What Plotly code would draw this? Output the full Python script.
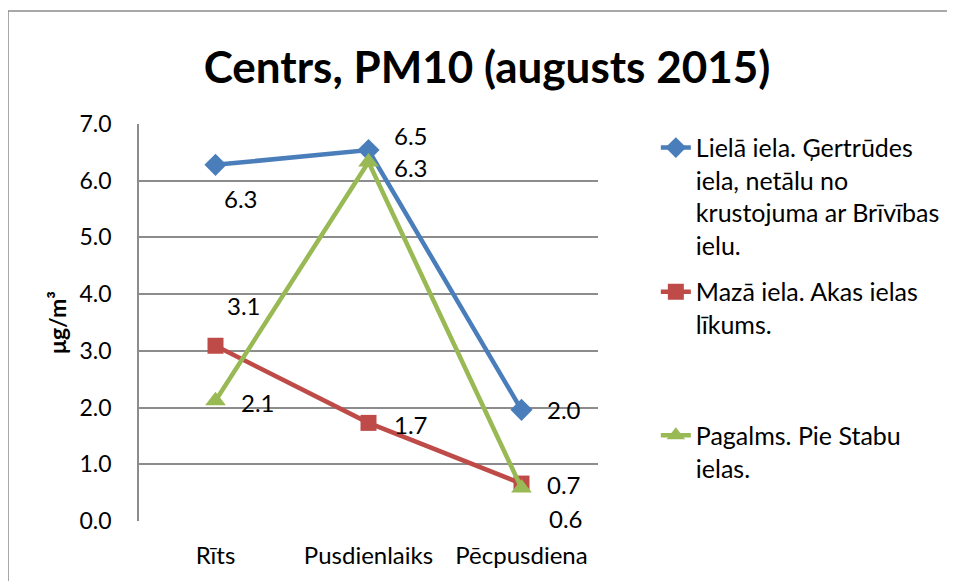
import plotly.graph_objects as go

# data
categories = ["Rīts", "Pusdienlaiks", "Pēcpusdiena"]
series_names = [
    "Lielā iela. Ģertrūdes<br>iela, netālu no<br>krustojuma ar Brīvības<br>ielu.",
    "Mazā iela. Akas ielas<br>līkums.",
    "Pagalms. Pie Stabu<br>ielas.",
]
liela_vals = [6.28, 6.54, 1.96]
maza_vals = [3.09, 1.73, 0.66]
pagalms_vals = [2.12, 6.33, 0.58]
y_ticks = [0, 1, 2, 3, 4, 5, 6, 7]

FONT = "Lato"
colors = ["#4A7EBB", "#BE4B48", "#98B954"]
symbols = ["diamond", "square", "triangle-up"]
msizes = [17, 16, 18]
# label offsets (px) for each point, per series, like the excel layout
label_shift = [
    [(25, -34), (42, 15), (42, 0)],
    [(28, 40), (42, -2), (42, -1)],
    [(42, -2), (42, -5), (44, -30)],
]
legend_y = [0.998, 0.635, 0.273]

all_vals = [liela_vals, maza_vals, pagalms_vals]

fig = go.Figure()
for i, vals in enumerate(all_vals):
    lg = "legend" if i == 0 else f"legend{i + 1}"
    fig.add_trace(go.Scatter(
        x=categories, y=vals, name=series_names[i], mode="lines+markers",
        line=dict(color=colors[i], width=4.5),
        marker=dict(symbol=symbols[i], size=msizes[i], color=colors[i]),
        legend=lg,
    ))
    for j, v in enumerate(vals):
        dx, dy = label_shift[i][j]
        fig.add_annotation(x=categories[j], y=v, text=f"{v:.1f}", showarrow=False,
                           xshift=dx, yshift=dy,
                           font=dict(family=FONT, size=24, color="black"))

legend_style = dict(x=1.126, xanchor="left", yanchor="top", valign="top",
                    bgcolor="rgba(0,0,0,0)", tracegroupgap=0,
                    font=dict(family=FONT, size=25, color="black"))
fig.update_layout(
    legend=dict(y=legend_y[0], **legend_style),
    legend2=dict(y=legend_y[1], **legend_style),
    legend3=dict(y=legend_y[2], **legend_style),
)

fig.update_layout(
    width=955, height=581,
    margin=dict(l=131, r=365, t=116, b=68, autoexpand=False),
    paper_bgcolor="white", plot_bgcolor="white",
    font=dict(family=FONT, color="black"),
    title=dict(text="<b>Centrs, PM10 (augusts 2015)</b>", x=479 / 955, xref="container",
               y=1 - 60 / 581, yref="container", xanchor="center", yanchor="middle",
               font=dict(family=FONT, size=44, color="black")),
    showlegend=True,
)
fig.update_xaxes(
    type="category", range=[-0.5, 2.5], showgrid=False, automargin=False,
    showline=False, ticks="", tickfont=dict(family=FONT, size=24, color="black"),
    ticklabelstandoff=18,
)
fig.update_yaxes(
    range=[0, 7], tickvals=y_ticks, tickformat=".1f", automargin=False,
    showgrid=True, gridcolor="#8C8C8C", gridwidth=1.5,
    showline=True, linecolor="#8C8C8C", linewidth=1.5,
    zeroline=False, ticks="", ticklabelstandoff=21,
    tickfont=dict(family=FONT, size=23, color="black"),
    title=dict(text="<b>μg/m³</b>", standoff=6,
               font=dict(family=FONT, size=23, color="black")),
)
# gray frame around the chart area (like the Excel chart border)
fig.add_shape(type="rect", xref="paper", yref="paper",
              x0=(0 - 131) / 459, x1=(960 - 131) / 459,
              y0=(513 - 600) / 397, y1=(513 - 3) / 397,
              line=dict(color="#8C8C8C", width=1.5), fillcolor="rgba(0,0,0,0)",
              layer="below")

fig.write_html("out.html")
